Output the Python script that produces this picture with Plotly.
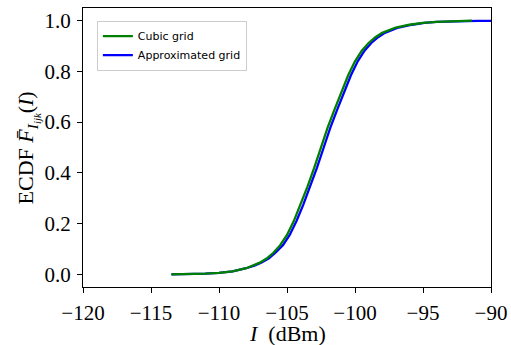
import plotly.graph_objects as go

# Cubic grid ECDF (x in dBm, y cumulative prob)
cubic_x = [-113.5, -112.0, -111.0, -110.0, -109.0, -108.0, -107.5, -107.0, -106.5, -106.0,
           -105.5, -105.0, -104.5, -104.0, -103.5, -103.0, -102.5, -102.0, -101.5, -101.0,
           -100.5, -100.0, -99.5, -99.0, -98.5, -98.0, -97.5, -97.0, -96.0, -95.0,
           -94.0, -93.0, -91.4]
cubic_y = [0.000, 0.001, 0.003, 0.006, 0.012, 0.024, 0.034, 0.046, 0.062, 0.085,
           0.115, 0.155, 0.210, 0.275, 0.345, 0.420, 0.500, 0.580, 0.650, 0.715,
           0.785, 0.840, 0.882, 0.912, 0.935, 0.952, 0.964, 0.973, 0.984, 0.991,
           0.995, 0.998, 1.000]

# Approximated grid ECDF
approx_x = [-113.5, -112.0, -111.0, -110.0, -109.0, -108.0, -107.4, -106.9, -106.35, -105.85,
            -105.3, -104.8, -104.3, -103.8, -103.3, -102.8, -102.3, -101.8, -101.3, -100.8,
            -100.3, -99.8, -99.3, -98.8, -98.3, -97.8, -97.3, -96.8, -95.8, -94.9,
            -94.0, -93.0, -91.0, -89.0]
approx_y = [0.000, 0.001, 0.003, 0.006, 0.012, 0.024, 0.034, 0.046, 0.062, 0.085,
            0.115, 0.155, 0.210, 0.275, 0.345, 0.420, 0.500, 0.580, 0.650, 0.715,
            0.785, 0.840, 0.882, 0.912, 0.935, 0.952, 0.964, 0.973, 0.984, 0.991,
            0.995, 0.997, 0.999, 1.000]

x_ticks = [-120, -115, -110, -105, -100, -95, -90]
y_ticks = [0.0, 0.2, 0.4, 0.6, 0.8, 1.0]

SERIF = "Liberation Serif, DejaVu Serif, serif"

fig = go.Figure()
fig.add_trace(go.Scatter(x=approx_x, y=approx_y, mode="lines", name="Approximated grid",
                         line=dict(color="#0000ff", width=2.3), legendrank=2))
fig.add_trace(go.Scatter(x=cubic_x, y=cubic_y, mode="lines", name="Cubic grid",
                         line=dict(color="#008000", width=2.3), legendrank=1))

axis_common = dict(showgrid=False, zeroline=False, showline=True, linecolor="black",
                   linewidth=1, mirror=True, ticks="outside", ticklen=5, tickwidth=1,
                   tickcolor="black", automargin=False, ticklabelstandoff=2,
                   tickfont=dict(family=SERIF, size=21, color="black"))

fig.update_layout(
    width=511, height=345,
    margin=dict(l=83, r=20, t=8, b=58),
    plot_bgcolor="white", paper_bgcolor="white",
    xaxis=dict(range=[-120, -90], tickvals=x_ticks,
               ticktext=[f"\u2212{abs(v)}" for v in x_ticks],
               **axis_common),
    yaxis=dict(range=[-0.05, 1.05], tickvals=y_ticks,
               ticktext=[f"{v:.1f}" for v in y_ticks],
               **axis_common),
    legend=dict(x=0.034, y=0.955, xanchor="left", yanchor="top",
                bgcolor="rgba(255,255,255,0.8)", bordercolor="#cccccc", borderwidth=1,
                font=dict(family="DejaVu Sans, sans-serif", size=11, color="black"),
                itemwidth=30, tracegroupgap=0),
    showlegend=True,
    annotations=[
        dict(text="<i>I</i>  (dBm)", xref="paper", yref="paper", x=0.5, y=-0.165,
             xanchor="center", yanchor="middle", showarrow=False,
             font=dict(family=SERIF, size=22, color="black")),
        dict(text="ECDF <i>F̄</i><sub><i>I</i><sub><i>ijk</i></sub></sub>(<i>I</i>)",
             xref="paper", yref="paper", x=-0.135, y=0.5, textangle=-90,
             xanchor="center", yanchor="middle", showarrow=False,
             font=dict(family=SERIF, size=22, color="black")),
    ],
)

fig.write_html("out.html", config={"displayModeBar": False},
               post_script="document.body.style.margin='0';document.body.style.padding='0';")
